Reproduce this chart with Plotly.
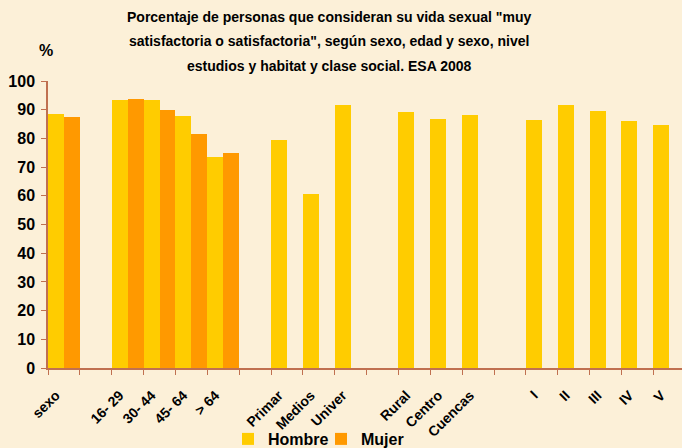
import plotly.graph_objects as go

categories = ["sexo", " ", "16- 29", "30- 44", "45- 64", "> 64", "  ",
              "Primar", "Medios", "Univer", "   ",
              "Rural", "Centro", "Cuencas", "    ",
              "I", "II", "III", "IV", "V"]
hombre = [88.6, None, 93.5, 93.5, 87.9, 73.6, None,
          79.5, 60.7, 91.7, None,
          89.3, 86.9, 88.3, None,
          86.5, 91.7, 89.6, 86.2, 84.5]
mujer = [87.6, None, 93.8, 90.0, 81.6, 75.0, None,
         None, None, None, None,
         None, None, None, None,
         None, None, None, None, None]

title_lines = ["Porcentaje de personas que consideran su vida sexual \"muy",
               "satisfactoria o satisfactoria\", según sexo, edad y sexo, nivel",
               "estudios y habitat y clase social. ESA 2008"]

FONT = "Liberation Sans, Arial, sans-serif"
BG = "#FCF0D8"
AXIS = "#C07050"

fig = go.Figure()
fig.add_trace(go.Bar(x=categories, y=hombre, name="Hombre", marker_color="#FFCC00",
                     marker_line_width=0))
fig.add_trace(go.Bar(x=categories, y=mujer, name="Mujer", marker_color="#FF9900",
                     marker_line_width=0))

fig.update_layout(
    width=682, height=448,
    margin=dict(l=48, r=0, t=81, b=80, autoexpand=False),
    paper_bgcolor=BG, plot_bgcolor=BG,
    barmode="group", bargap=0, bargroupgap=0,
    showlegend=True,
    legend=dict(orientation="h", x=(228 - 48) / 634, xanchor="left",
                y=(368 - 439) / 287, yanchor="middle",
                font=dict(family=FONT, size=16, color="black", weight="bold"),
                bgcolor="rgba(0,0,0,0)", itemwidth=30, traceorder="normal",
                entrywidth=48, entrywidthmode="pixels"),
    font=dict(family=FONT, color="black"),
)

fig.update_xaxes(
    type="category", range=[-0.5, 19.4], showgrid=False, automargin=False,
    showline=True, linecolor=AXIS, linewidth=1.5,
    ticks="outside", tickson="boundaries", ticklen=5, tickcolor=AXIS,
    tickangle=-45, ticklabelshift=-8, ticklabelstandoff=12,
    tickfont=dict(family=FONT, size=14, color="black", weight="bold"),
)
fig.update_yaxes(
    range=[0, 100], dtick=10, showgrid=False, automargin=False,
    showline=True, linecolor=AXIS, linewidth=1.5,
    ticks="outside", ticklen=5, tickcolor=AXIS, ticklabelstandoff=3,
    tickfont=dict(family=FONT, size=16, color="black", weight="bold"),
    zeroline=False,
)

for line, ypx in zip(title_lines, [17, 41, 66]):
    fig.add_annotation(text=line, xref="paper", yref="paper",
                       x=(329 - 48) / 634, y=(368 - ypx) / 287,
                       xanchor="center", yanchor="middle", showarrow=False,
                       font=dict(family=FONT, size=14, color="black", weight="bold"))

fig.add_annotation(text="%", xref="paper", yref="paper",
                   x=(46 - 48) / 634, y=(368 - 50) / 287,
                   xanchor="center", yanchor="middle", showarrow=False,
                   font=dict(family=FONT, size=16, color="black", weight="bold"))

fig.write_html("out.html",
               config={"displayModeBar": False},
               post_script="document.body.style.margin='0px';"
                           "document.body.style.overflow='hidden';"
                           "document.body.style.background='#FCF0D8';")
